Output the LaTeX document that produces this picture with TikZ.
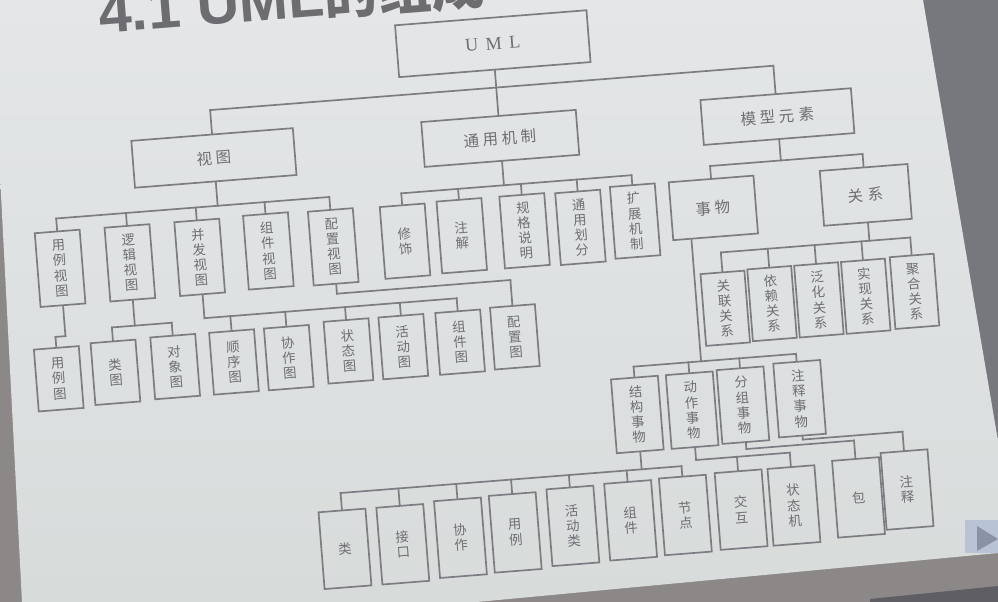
\documentclass[tikz,border=0pt]{standalone}
\usepackage{fontspec}
\usetikzlibrary{calc}
\newfontfamily\cjk{Noto Sans CJK SC}
\newfontfamily\cjkwide[LetterSpace=25]{Noto Sans CJK SC}
\newfontfamily\umlfont[LetterSpace=40]{Liberation Serif}
\newfontfamily\titlefont{Liberation Sans}
\definecolor{slidetop}{HTML}{E4E6E8}
\definecolor{slidebot}{HTML}{D7DCDB}
\definecolor{darkr}{HTML}{77787E}
\definecolor{edgeg}{HTML}{8C8888}
\definecolor{bandd}{HTML}{5E5E64}
\definecolor{linec}{HTML}{7C7C82}
\definecolor{textc}{HTML}{6E6E74}
\definecolor{titlec}{HTML}{6C6C71}
\definecolor{btnbg}{HTML}{B8C4D6}
\definecolor{btntri}{HTML}{8A93A6}
\newcommand\treeconn[5]{%
  \coordinate (tmpL) at (0,#2);
  \coordinate (tmpR) at (998,#2);
  \draw[conn] (#1) -- ($(tmpL)!(#1)!(tmpR)$);
  \draw[conn] ($(tmpL)!(#3)!(tmpR)$) -- ($(tmpL)!(#4)!(tmpR)$);
  \foreach \nd in {#5} {\draw[conn] (\nd.north) -- ($(tmpL)!(\nd.north)!(tmpR)$);}
}
\begin{document}
\begin{tikzpicture}[x=0.025cm,y=-0.025cm,
  box/.style={draw=linec, line width=1.2pt, inner sep=0pt, text=textc},
  hbox/.style 2 args={box, minimum width=#1*0.025cm, minimum height=#2*0.025cm,
    font=\cjkwide\fontsize{11}{13}\selectfont},
  vbox/.style 2 args={box, minimum width=#1*0.025cm, minimum height=#2*0.025cm,
    align=center, font=\cjk\fontsize{9.5}{10.8}\selectfont},
  conn/.style={draw=linec, line width=1.2pt, line cap=rect}]
\useasboundingbox (0,0) rectangle (998,602);
\clip (0,0) rectangle (998,602);
% photo background
\fill[edgeg] (0,0) rectangle (998,602);
\fill[darkr] (923,0) -- (998,0) -- (998,441) -- cycle;
\fill[bandd] (870,602) -- (870,599) -- (998,586) -- (998,602) -- cycle;
\shade[top color=slidetop, bottom color=slidebot] (0,0) -- (923,0) -- (998,441) -- (998,553) -- (477,602) -- (22,602) -- (0,175) -- cycle;
\fill[btnbg] (965,520) rectangle (998,553);
\fill[btntri] (977,526) -- (977,551) -- (998,539) -- cycle;

\begin{scope}[rotate around={4.5:(499,301)}, every node/.append style={transform shape}]
% title
\node[anchor=base west, inner sep=0pt, text=titlec,
  font=\titlefont\bfseries\fontsize{42}{42}\selectfont] (title) at (122,3)
  {4.1 UML{\cjk\bfseries\fontsize{38}{38}\selectfont 的组成}};
% level 0-1
\node[box, minimum width=192*0.025cm, minimum height=52*0.025cm,
  font=\umlfont\fontsize{13}{15}\selectfont] (uml) at (513,44) {UML};
\node[hbox={162}{47}] (shitu) at (226,136) {视图};
\node[hbox={155}{45}] (tyjz) at (513,139) {通用机制};
\node[hbox={151}{45}] (mxys) at (791,139) {模型元素};
\node[hbox={85}{58}] (shiwu) at (720,225) {事物};
\node[hbox={88}{55}] (guanxi) at (873,224) {关系};
% views
\node[vbox={45}{74}] (ylst) at (64,234) {用\\例\\视\\图};
\node[vbox={45}{74}] (ljst) at (134,234) {逻\\辑\\视\\图};
\node[vbox={45}{74}] (bfst) at (204,234) {并\\发\\视\\图};
\node[vbox={45}{74}] (zjst) at (273,233) {组\\件\\视\\图};
\node[vbox={45}{74}] (pzst) at (338,234) {配\\置\\视\\图};
% common mechanisms
\node[vbox={45}{72}] (xs) at (410,234) {修\\饰};
\node[vbox={45}{72}] (zhujie) at (467,233) {注\\解};
\node[vbox={45}{72}] (ggsm) at (530,233) {规\\格\\说\\明};
\node[vbox={45}{72}] (tyhf) at (586,234) {通\\用\\划\\分};
\node[vbox={45}{72}] (kzjz) at (641,232) {扩\\展\\机\\制};
% diagrams
\node[vbox={45}{62}] (ylt) at (54,344) {用\\例\\图};
\node[vbox={45}{62}] (lt) at (111,342) {类\\图};
\node[vbox={45}{62}] (dxt) at (171,341) {对\\象\\图};
\node[vbox={45}{62}] (sxt) at (230,341) {顺\\序\\图};
\node[vbox={45}{62}] (xzt) at (285,341) {协\\作\\图};
\node[vbox={45}{62}] (ztt) at (345,339) {状\\态\\图};
\node[vbox={45}{62}] (hdt) at (400,339) {活\\动\\图};
\node[vbox={45}{62}] (zjt) at (457,339) {组\\件\\图};
\node[vbox={45}{62}] (pzt) at (512,338) {配\\置\\图};
% relations
\node[vbox={44}{72}] (glgx) at (724,326) {关\\联\\关\\系};
\node[vbox={44}{72}] (ylgx) at (771,325) {依\\赖\\关\\系};
\node[vbox={44}{72}] (fhgx) at (818,325) {泛\\化\\关\\系};
\node[vbox={44}{72}] (sxgx) at (865,325) {实\\现\\关\\系};
\node[vbox={44}{72}] (jhgx) at (914,324) {聚\\合\\关\\系};
% things
\node[vbox={47}{74}] (jgsw) at (628,425) {结\\构\\事\\物};
\node[vbox={47}{74}] (dzsw) at (683,425) {动\\作\\事\\物};
\node[vbox={47}{74}] (fzsw) at (734,424) {分\\组\\事\\物};
\node[vbox={47}{74}] (zssw) at (791,422) {注\\释\\事\\物};
% bottom row
\node[vbox={47}{77}] (lei) at (326,536) {类};
\node[vbox={47}{77}] (jk) at (384,536) {接\\口};
\node[vbox={47}{77}] (xz) at (442,534) {协\\作};
\node[vbox={47}{77}] (yl) at (497,533) {用\\例};
\node[vbox={47}{77}] (hdl) at (555,531) {活\\动\\类};
\node[vbox={47}{77}] (zujian) at (613,530) {组\\件};
\node[vbox={47}{77}] (jd) at (668,529) {节\\点};
\node[vbox={47}{77}] (jh) at (724,528) {交\\互};
\node[vbox={47}{77}] (ztj) at (777,528) {状\\态\\机};
\node[vbox={47}{77}] (bao) at (842,525) {包};
\node[vbox={47}{77}] (zs) at (891,521) {注\\释};
% connectors
\treeconn{uml.south}{88}{shitu.north}{mxys.north}{shitu,tyjz,mxys}
\treeconn{shitu.south}{184}{ylst.north}{pzst.north}{ylst,ljst,bfst,zjst,pzst}
\treeconn{tyjz.south}{186}{xs.north}{kzjz.north}{xs,zhujie,ggsm,tyhf,kzjz}
\treeconn{ylst.south}{302}{ylt.north}{ylst.south}{ylt}
\treeconn{ljst.south}{297}{lt.north}{dxt.north}{lt,dxt}
\treeconn{bfst.south}{295}{bfst.south}{zjt.north}{sxt,xzt,ztt,hdt,zjt}
\treeconn{pzst.south}{281}{pzst.south}{pzt.north}{pzt}
\treeconn{mxys.south}{183}{shiwu.north}{guanxi.north}{shiwu,guanxi}
\treeconn{guanxi.south}{270}{glgx.north}{jhgx.north}{glgx,ylgx,fhgx,sxgx,jhgx}
\coordinate (swstem) at ($(shiwu.south)!0.56!(shiwu.south west)$);
\treeconn{swstem}{377}{jgsw.north}{zssw.north}{jgsw,dzsw,fzsw,zssw}
\treeconn{jgsw.south}{480}{lei.north}{jd.north}{lei,jk,xz,yl,hdl,zujian,jd}
\treeconn{dzsw.south}{475}{dzsw.south}{ztj.north}{jh,ztj}
\treeconn{fzsw.south}{468}{fzsw.south}{bao.north}{bao}
\treeconn{zssw.south}{463}{zssw.south}{zs.north}{zs}
\end{scope}
\end{tikzpicture}
\end{document}
